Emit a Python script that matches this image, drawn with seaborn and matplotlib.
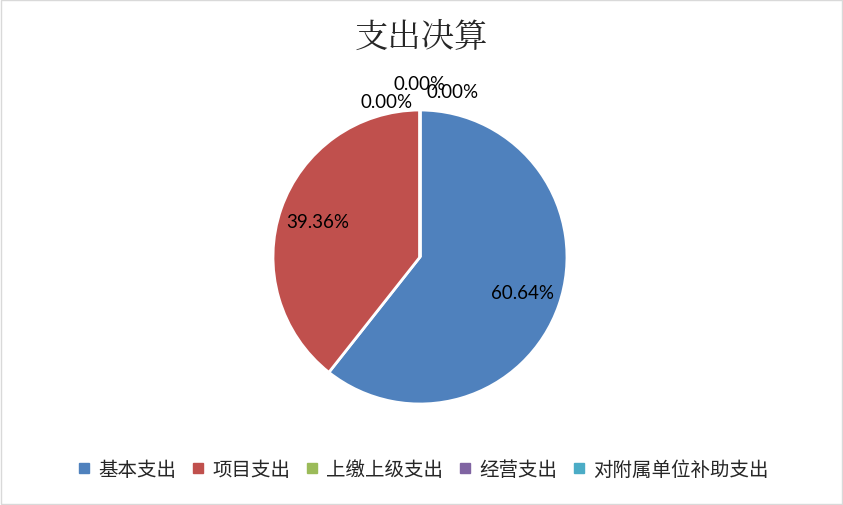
import matplotlib
matplotlib.use("Agg")
import matplotlib.pyplot as plt
import seaborn as sns
from matplotlib.patches import Rectangle
from matplotlib.lines import Line2D

categories = ["基本支出", "项目支出", "上缴上级支出", "经营支出", "对附属单位补助支出"]
values = [60.64, 39.36, 0.0, 0.0, 0.0]
colors = ["#4F81BD", "#C0504D", "#9BBB59", "#8064A2", "#4BACC6"]
title = "支出决算"

sns.set_theme(style="white")
plt.rcParams['font.family'] = ['Noto Sans CJK SC', 'DejaVu Sans']

fig = plt.figure(figsize=(8.43, 5.06), dpi=100)
fig.patch.set_facecolor("white")
fig.patches.append(Rectangle((0.001, 0.001), 0.998, 0.997, transform=fig.transFigure,
                             fill=False, edgecolor="#D9D9D9", linewidth=1))

ax = fig.add_axes([0.3238, 0.1996, 0.3488, 0.581])
wedges, texts, autotexts = ax.pie(
    values, colors=colors, startangle=90, counterclock=False,
    autopct="%.2f%%", pctdistance=0.74,
    wedgeprops=dict(edgecolor="white", linewidth=2),
    textprops=dict(fontsize=13.5, family=["Lato", "DejaVu Sans"], color="black"),
)
ax.set_xlim(-1, 1)
ax.set_ylim(-1, 1)
ax.set_aspect("equal")
ax.axis("off")

# zero-value labels pushed outward above the pie (avoid collisions)
zero_offsets = [(-0.224, 1.061), (0.0, 1.177), (0.224, 1.129)]
k = 0
for v, t in zip(values, autotexts):
    t.set_clip_on(False)
    if v == 0 and k < len(zero_offsets):
        t.set_position(zero_offsets[k])
        k += 1

fig.text(0.5, 0.925, title, ha="center", va="center", fontsize=24,
         family=["Noto Serif CJK SC", "Noto Sans CJK SC", "DejaVu Sans"])

handles = [Line2D([0], [0], marker="s", linestyle="", markersize=7.5,
                  markerfacecolor=c, markeredgecolor=c) for c in colors]
fig.legend(handles, categories, loc="center", bbox_to_anchor=(0.5, 0.071),
           ncol=5, frameon=False, fontsize=14, handletextpad=0.25,
           columnspacing=0.6, handlelength=1.0)

fig.savefig("out.png", dpi=100)
